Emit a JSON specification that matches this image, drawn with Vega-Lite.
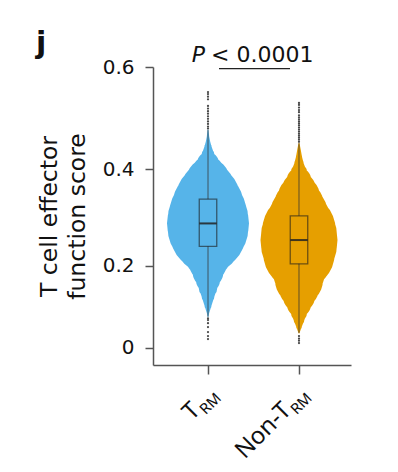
{
  "$schema": "https://vega.github.io/schema/vega-lite/v6.json",
  "width": 198,
  "height": 298,
  "autosize": {"type": "none"},
  "padding": {"left": 153, "top": 67, "right": 47, "bottom": 107},
  "background": "white",
  "config": {"view": {"stroke": null}, "font": "DejaVu Sans"},
  "title": {"text": "j", "anchor": "start", "frame": "group", "dx": -117, "offset": -15, "fontSize": 30, "fontWeight": "bold", "font": "DejaVu Sans", "color": "#111"},
  "datasets": {
    "violin": [
      {"group": "T_RM", "score": 0.478, "density": 0},
      {"group": "T_RM", "score": 0.465, "density": 0.22},
      {"group": "T_RM", "score": 0.455, "density": 0.4},
      {"group": "T_RM", "score": 0.445, "density": 0.65},
      {"group": "T_RM", "score": 0.43, "density": 1.15},
      {"group": "T_RM", "score": 0.413, "density": 1.95},
      {"group": "T_RM", "score": 0.395, "density": 2.9},
      {"group": "T_RM", "score": 0.379, "density": 3.9},
      {"group": "T_RM", "score": 0.36, "density": 4.91},
      {"group": "T_RM", "score": 0.345, "density": 5.71},
      {"group": "T_RM", "score": 0.327, "density": 6.44},
      {"group": "T_RM", "score": 0.311, "density": 6.97},
      {"group": "T_RM", "score": 0.3, "density": 7.24},
      {"group": "T_RM", "score": 0.29, "density": 7.38},
      {"group": "T_RM", "score": 0.28, "density": 7.27},
      {"group": "T_RM", "score": 0.269, "density": 6.84},
      {"group": "T_RM", "score": 0.255, "density": 6.03},
      {"group": "T_RM", "score": 0.241, "density": 5.04},
      {"group": "T_RM", "score": 0.222, "density": 4.14},
      {"group": "T_RM", "score": 0.205, "density": 3.42},
      {"group": "T_RM", "score": 0.185, "density": 2.75},
      {"group": "T_RM", "score": 0.168, "density": 2.16},
      {"group": "T_RM", "score": 0.15, "density": 1.66},
      {"group": "T_RM", "score": 0.131, "density": 1.15},
      {"group": "T_RM", "score": 0.11, "density": 0.62},
      {"group": "T_RM", "score": 0.092, "density": 0.2},
      {"group": "T_RM", "score": 0.084, "density": 0},
      {"group": "Non-T_RM", "score": 0.452, "density": 0},
      {"group": "Non-T_RM", "score": 0.44, "density": 0.3},
      {"group": "Non-T_RM", "score": 0.425, "density": 0.55},
      {"group": "Non-T_RM", "score": 0.412, "density": 0.85},
      {"group": "Non-T_RM", "score": 0.395, "density": 1.45},
      {"group": "Non-T_RM", "score": 0.379, "density": 2.2},
      {"group": "Non-T_RM", "score": 0.36, "density": 3.06},
      {"group": "Non-T_RM", "score": 0.345, "density": 3.78},
      {"group": "Non-T_RM", "score": 0.327, "density": 4.5},
      {"group": "Non-T_RM", "score": 0.311, "density": 5.17},
      {"group": "Non-T_RM", "score": 0.293, "density": 5.85},
      {"group": "Non-T_RM", "score": 0.276, "density": 6.61},
      {"group": "Non-T_RM", "score": 0.265, "density": 6.84},
      {"group": "Non-T_RM", "score": 0.255, "density": 6.93},
      {"group": "Non-T_RM", "score": 0.245, "density": 6.84},
      {"group": "Non-T_RM", "score": 0.226, "density": 6.44},
      {"group": "Non-T_RM", "score": 0.215, "density": 5.85},
      {"group": "Non-T_RM", "score": 0.198, "density": 5.04},
      {"group": "Non-T_RM", "score": 0.185, "density": 4.68},
      {"group": "Non-T_RM", "score": 0.168, "density": 4.32},
      {"group": "Non-T_RM", "score": 0.15, "density": 3.6},
      {"group": "Non-T_RM", "score": 0.131, "density": 2.88},
      {"group": "Non-T_RM", "score": 0.112, "density": 2.16},
      {"group": "Non-T_RM", "score": 0.092, "density": 1.44},
      {"group": "Non-T_RM", "score": 0.075, "density": 0.95},
      {"group": "Non-T_RM", "score": 0.059, "density": 0.5},
      {"group": "Non-T_RM", "score": 0.043, "density": 0}
    ],
    "box": [
      {"group": "T_RM", "lower": 0.084, "q1": 0.2414, "median": 0.2898, "q3": 0.34, "upper": 0.478},
      {"group": "Non-T_RM", "lower": 0.043, "q1": 0.204, "median": 0.2549, "q3": 0.3056, "upper": 0.452}
    ],
    "outliers": [
      {"group": "T_RM", "score": 0.552}, {"group": "T_RM", "score": 0.548}, {"group": "T_RM", "score": 0.543}, {"group": "T_RM", "score": 0.538},
      {"group": "T_RM", "score": 0.525}, {"group": "T_RM", "score": 0.52}, {"group": "T_RM", "score": 0.515}, {"group": "T_RM", "score": 0.51},
      {"group": "T_RM", "score": 0.505}, {"group": "T_RM", "score": 0.5}, {"group": "T_RM", "score": 0.495}, {"group": "T_RM", "score": 0.49},
      {"group": "T_RM", "score": 0.485}, {"group": "T_RM", "score": 0.481},
      {"group": "T_RM", "score": 0.08}, {"group": "T_RM", "score": 0.0757}, {"group": "T_RM", "score": 0.068}, {"group": "T_RM", "score": 0.0583},
      {"group": "T_RM", "score": 0.0453}, {"group": "T_RM", "score": 0.0348}, {"group": "T_RM", "score": 0.0267},
      {"group": "Non-T_RM", "score": 0.531}, {"group": "Non-T_RM", "score": 0.527}, {"group": "Non-T_RM", "score": 0.522}, {"group": "Non-T_RM", "score": 0.517},
      {"group": "Non-T_RM", "score": 0.513}, {"group": "Non-T_RM", "score": 0.507}, {"group": "Non-T_RM", "score": 0.503}, {"group": "Non-T_RM", "score": 0.499},
      {"group": "Non-T_RM", "score": 0.495}, {"group": "Non-T_RM", "score": 0.491}, {"group": "Non-T_RM", "score": 0.487}, {"group": "Non-T_RM", "score": 0.483},
      {"group": "Non-T_RM", "score": 0.479}, {"group": "Non-T_RM", "score": 0.475}, {"group": "Non-T_RM", "score": 0.471}, {"group": "Non-T_RM", "score": 0.467},
      {"group": "Non-T_RM", "score": 0.463}, {"group": "Non-T_RM", "score": 0.459}, {"group": "Non-T_RM", "score": 0.455},
      {"group": "Non-T_RM", "score": 0.0348}, {"group": "Non-T_RM", "score": 0.028}, {"group": "Non-T_RM", "score": 0.022}, {"group": "Non-T_RM", "score": 0.0153}
    ],
    "annot": [{"from": "T_RM", "to": "Non-T_RM", "sym": "P", "label": "< 0.0001"}],
    "xlab": [
      {"group": "T_RM", "main": "T", "sub": "RM"},
      {"group": "Non-T_RM", "main": "Non-T", "sub": "RM"}
    ]
  },
  "layer": [
    {
      "data": {"name": "violin"},
      "mark": {"type": "trail"},
      "encoding": {
        "x": {
          "field": "group", "type": "nominal", "title": null,
          "scale": {"type": "point", "domain": ["T_RM", "Non-T_RM"], "padding": 0.588, "align": 0.514},
          "axis": {"title": null, "labels": false, "ticks": true, "tickSize": 9, "tickWidth": 1.5, "tickColor": "#555", "domainColor": "#555", "domainWidth": 1.5, "grid": false}
        },
        "y": {
          "field": "score", "type": "quantitative",
          "scale": {"type": "pow", "exponent": 1.12, "domain": [-0.05, 0.6], "nice": false, "zero": false},
          "axis": {
            "title": ["T cell effector", "function score"],
            "titleFontSize": 23.5, "titleFontWeight": "normal", "titleFont": "DejaVu Sans", "titleColor": "#111", "titleLineHeight": 28, "titlePadding": 13,
            "values": [0, 0.2, 0.4, 0.6], "format": "~g",
            "labelFontSize": 20, "labelFont": "DejaVu Sans", "labelColor": "#111", "labelPadding": 11,
            "tickSize": 8, "tickWidth": 1.5, "tickColor": "#555", "domainColor": "#555", "domainWidth": 1.5, "grid": false
          }
        },
        "size": {"field": "density", "type": "quantitative", "scale": {"domain": [0, 9], "range": [0, 100]}, "legend": null},
        "color": {"field": "group", "type": "nominal", "scale": {"domain": ["T_RM", "Non-T_RM"], "range": ["#56B4E9", "#E69F00"]}, "legend": null},
        "order": {"field": "score", "type": "quantitative"}
      }
    },
    {
      "data": {"name": "box"},
      "mark": {"type": "rule", "color": "#333", "opacity": 0.75, "strokeWidth": 1},
      "encoding": {
        "x": {"field": "group", "type": "nominal"},
        "y": {"field": "q3", "type": "quantitative"},
        "y2": {"field": "upper"}
      }
    },
    {
      "data": {"name": "box"},
      "mark": {"type": "rule", "color": "#333", "opacity": 0.75, "strokeWidth": 1},
      "encoding": {
        "x": {"field": "group", "type": "nominal"},
        "y": {"field": "lower", "type": "quantitative"},
        "y2": {"field": "q1"}
      }
    },
    {
      "data": {"name": "box"},
      "mark": {"type": "bar", "width": 17.5, "fillOpacity": 0, "stroke": "#1a1a1a", "strokeOpacity": 0.6, "strokeWidth": 1.3},
      "encoding": {
        "x": {"field": "group", "type": "nominal"},
        "y": {"field": "q3", "type": "quantitative"},
        "y2": {"field": "q1"}
      }
    },
    {
      "data": {"name": "box"},
      "mark": {"type": "tick", "orient": "horizontal", "size": 17.5, "thickness": 2, "color": "#222", "opacity": 0.85},
      "encoding": {
        "x": {"field": "group", "type": "nominal"},
        "y": {"field": "median", "type": "quantitative"}
      }
    },
    {
      "data": {"name": "outliers"},
      "mark": {"type": "circle", "size": 5, "color": "#333", "opacity": 0.9},
      "encoding": {
        "x": {"field": "group", "type": "nominal"},
        "y": {"field": "score", "type": "quantitative"}
      }
    },
    {
      "data": {"name": "annot"},
      "mark": {"type": "rule", "color": "#222", "strokeWidth": 1.3, "xOffset": 11, "x2Offset": -9},
      "encoding": {
        "x": {"field": "from", "type": "nominal"},
        "x2": {"field": "to"},
        "y": {"datum": 0.597}
      }
    },
    {
      "data": {"name": "annot"},
      "mark": {"type": "text", "align": "right", "baseline": "alphabetic", "fontSize": 22, "fontStyle": "italic", "font": "DejaVu Sans", "dx": -3, "color": "#111"},
      "encoding": {
        "x": {"field": "from", "type": "nominal"},
        "y": {"datum": 0.61},
        "text": {"field": "sym"}
      }
    },
    {
      "data": {"name": "annot"},
      "mark": {"type": "text", "align": "left", "baseline": "alphabetic", "fontSize": 22, "font": "DejaVu Sans", "dx": 3, "color": "#111"},
      "encoding": {
        "x": {"field": "from", "type": "nominal"},
        "y": {"datum": 0.61},
        "text": {"field": "label"}
      }
    },
    {
      "data": {"name": "xlab"},
      "mark": {"type": "text", "align": "right", "baseline": "alphabetic", "angle": 315, "fontSize": 15, "font": "Noto Sans", "dx": 9.9, "dy": 9.9, "color": "#111"},
      "encoding": {
        "x": {"field": "group", "type": "nominal"},
        "y": {"datum": -0.132},
        "text": {"field": "sub"}
      }
    },
    {
      "data": {"name": "xlab"},
      "mark": {"type": "text", "align": "right", "baseline": "alphabetic", "angle": 315, "fontSize": 24, "font": "Noto Sans", "dx": -13.6, "dy": 4.5, "color": "#111"},
      "encoding": {
        "x": {"field": "group", "type": "nominal"},
        "y": {"datum": -0.132},
        "text": {"field": "main"}
      }
    }
  ]
}
